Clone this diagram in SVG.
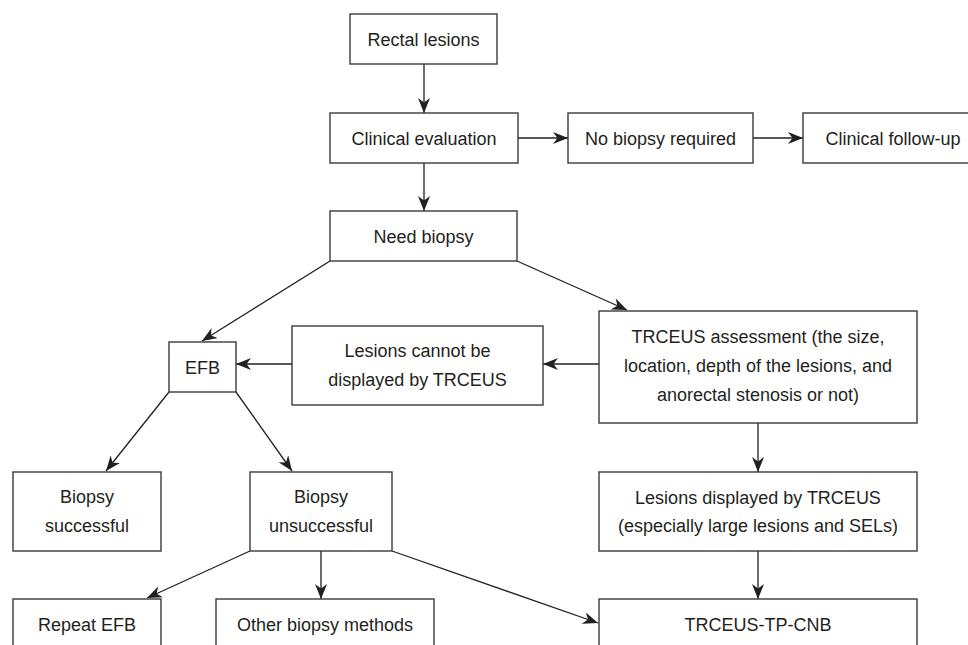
<svg xmlns="http://www.w3.org/2000/svg" width="968" height="645" viewBox="0 0 968 645">
<style>
.box{fill:#fff;stroke:#3a3a3a;stroke-width:1.4}
.t{font-family:"Liberation Sans",Arial,Helvetica,sans-serif;font-size:18px;fill:#231f20;text-anchor:middle}
.c{fill:none;stroke:#231f20;stroke-width:1.3}
</style>
<defs>
<marker id="ah" markerUnits="userSpaceOnUse" markerWidth="16" markerHeight="12" refX="15" refY="6" orient="auto">
<path d="M0,0 L15,6 L0,12 L4.5,6 Z" fill="#231f20"/>
</marker>
</defs>
<rect width="968" height="645" fill="#fff"/>
<g id="connectors">
<line class="c" x1="424" y1="64" x2="424" y2="113" marker-end="url(#ah)"/>
<line class="c" x1="518" y1="138" x2="568" y2="138" marker-end="url(#ah)"/>
<line class="c" x1="753" y1="138" x2="803" y2="138" marker-end="url(#ah)"/>
<line class="c" x1="424" y1="163" x2="424" y2="211" marker-end="url(#ah)"/>
<line class="c" x1="330" y1="261" x2="202" y2="341" marker-end="url(#ah)"/>
<line class="c" x1="517" y1="261" x2="627" y2="310" marker-end="url(#ah)"/>
<line class="c" x1="599" y1="364" x2="543" y2="364" marker-end="url(#ah)"/>
<line class="c" x1="292" y1="364" x2="236" y2="364" marker-end="url(#ah)"/>
<line class="c" x1="169" y1="392" x2="106" y2="471" marker-end="url(#ah)"/>
<line class="c" x1="236" y1="392" x2="292" y2="471" marker-end="url(#ah)"/>
<line class="c" x1="758" y1="423" x2="758" y2="472" marker-end="url(#ah)"/>
<line class="c" x1="758" y1="551" x2="758" y2="599" marker-end="url(#ah)"/>
<line class="c" x1="250" y1="551" x2="147" y2="598" marker-end="url(#ah)"/>
<line class="c" x1="321" y1="551" x2="321" y2="599" marker-end="url(#ah)"/>
<line class="c" x1="392" y1="551" x2="598" y2="623" marker-end="url(#ah)"/>
</g>
<g id="rectal"><rect class="box" x="350" y="14" width="147" height="50"/><text class="t" x="423.5" y="46">Rectal lesions</text></g>
<g id="clinical-eval"><rect class="box" x="330" y="113" width="188" height="50"/><text class="t" x="424" y="145">Clinical evaluation</text></g>
<g id="no-biopsy"><rect class="box" x="568" y="113" width="185" height="50"/><text class="t" x="660.5" y="145">No biopsy required</text></g>
<g id="follow-up"><rect class="box" x="803" y="113" width="190" height="50"/><text class="t" x="893" y="145">Clinical follow-up</text></g>
<g id="need-biopsy"><rect class="box" x="330" y="211" width="187" height="50"/><text class="t" x="423.5" y="243">Need biopsy</text></g>
<g id="efb"><rect class="box" x="169" y="342" width="67" height="50"/><text class="t" x="202.5" y="374">EFB</text></g>
<g id="cannot-display"><rect class="box" x="292" y="326" width="251" height="79"/><text class="t" x="417.5" y="357">Lesions cannot be</text><text class="t" x="417.5" y="386">displayed by TRCEUS</text></g>
<g id="trceus-assess"><rect class="box" x="599" y="311" width="318" height="112"/><text class="t" x="758" y="343">TRCEUS assessment (the size,</text><text class="t" x="758" y="372">location, depth of the lesions, and</text><text class="t" x="758" y="401">anorectal stenosis or not)</text></g>
<g id="biopsy-success"><rect class="box" x="13" y="472" width="148" height="79"/><text class="t" x="87" y="503">Biopsy</text><text class="t" x="87" y="532">successful</text></g>
<g id="biopsy-unsuccess"><rect class="box" x="250" y="472" width="142" height="79"/><text class="t" x="321" y="503">Biopsy</text><text class="t" x="321" y="532">unsuccessful</text></g>
<g id="displayed"><rect class="box" x="599" y="472" width="318" height="79"/><text class="t" x="758" y="504">Lesions displayed by TRCEUS</text><text class="t" x="758" y="532">(especially large lesions and SELs)</text></g>
<g id="repeat-efb"><rect class="box" x="13" y="599" width="148" height="70"/><text class="t" x="87" y="631">Repeat EFB</text></g>
<g id="other-methods"><rect class="box" x="216" y="599" width="218" height="70"/><text class="t" x="325" y="631">Other biopsy methods</text></g>
<g id="tp-cnb"><rect class="box" x="599" y="599" width="318" height="70"/><text class="t" x="758" y="631">TRCEUS-TP-CNB</text></g>
</svg>
